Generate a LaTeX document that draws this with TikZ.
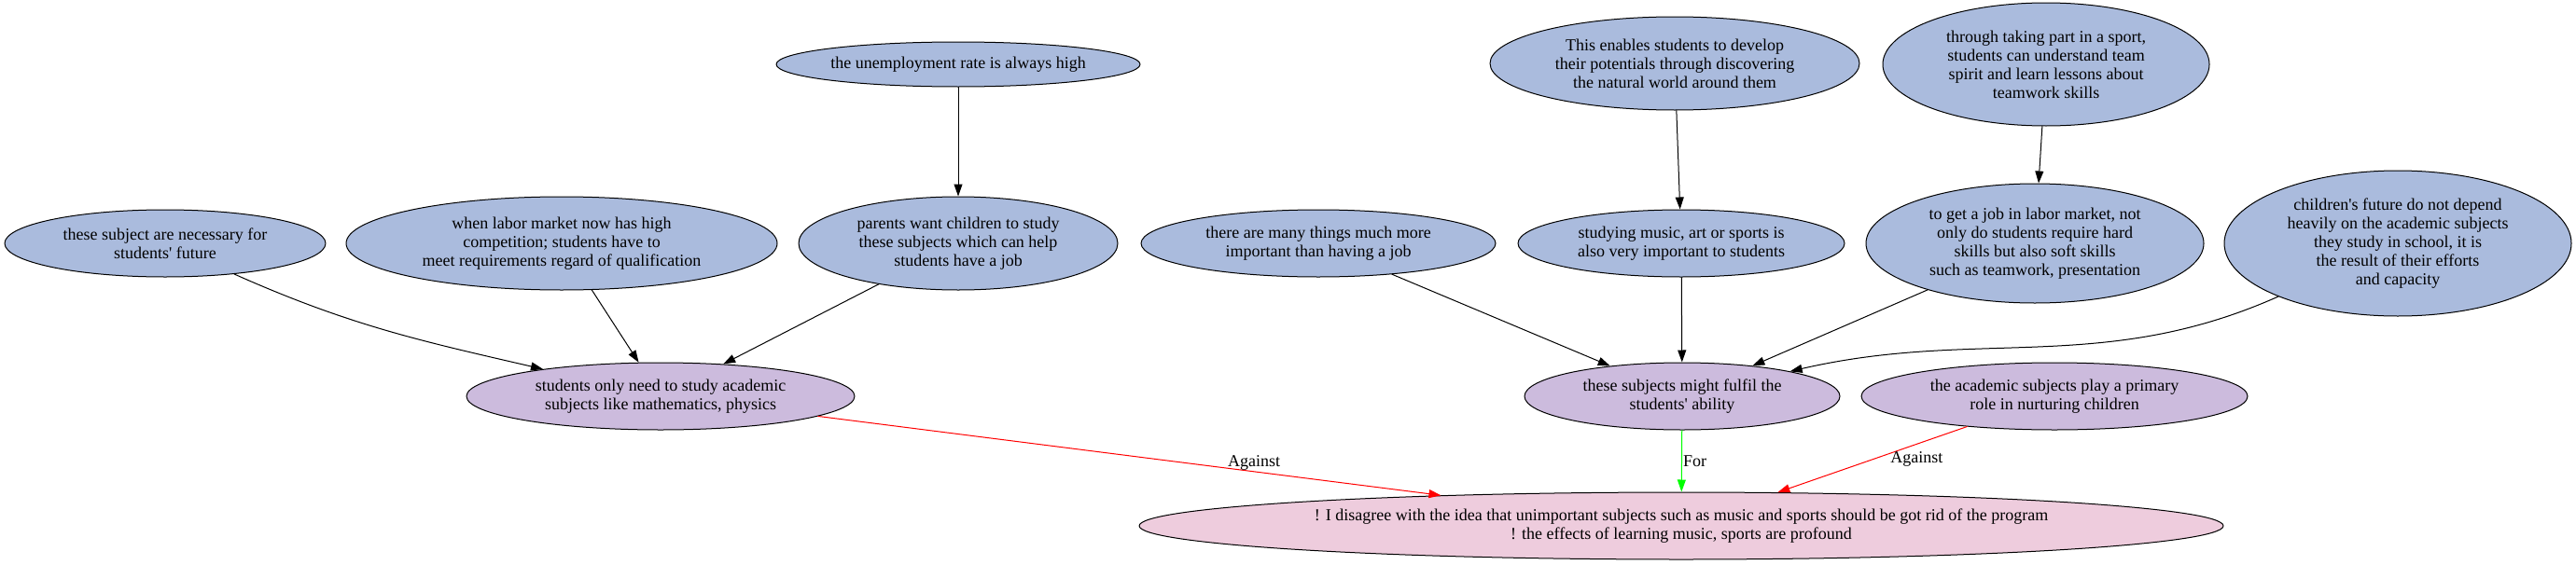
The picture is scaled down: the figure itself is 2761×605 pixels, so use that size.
\documentclass[tikz,border=0pt]{standalone}
\usepackage{fontspec}
\setmainfont{Liberation Serif}
\usetikzlibrary{shapes.geometric,arrows.meta}
\definecolor{premise}{RGB}{170,187,221}
\definecolor{claim}{RGB}{204,187,221}
\definecolor{thesiscol}{RGB}{238,204,221}
\newcommand{\ap}{\textquotesingle}
\tikzset{
	arg/.style={ellipse,draw,inner sep=0pt,align=center,fill=premise},
	clm/.style={arg,fill=claim},
	edgelabel/.style={inner sep=1pt,text=black}
}
\begin{document}
\begin{tikzpicture}[x=1pt,y=1pt,line join=round,line cap=round,line width=1pt,>={Stealth[length=13pt,width=9pt,inset=0pt]},font=\fontsize{18}{20}\selectfont]
	\useasboundingbox (0,0) rectangle (2761,-605);
	\node[arg,minimum width=344pt,minimum height=72pt] (future) at (177,-261) {these subject are necessary for\\students\ap{} future};
	\node[arg,minimum width=462pt,minimum height=100pt] (labor) at (602,-261) {when labor market now has high\\competition; students have to\\meet requirements regard of qualification};
	\node[arg,minimum width=342pt,minimum height=100pt] (parents) at (1027,-261) {parents want children to study\\these subjects which can help\\students have a job};
	\node[arg,minimum width=390pt,minimum height=48pt] (unemp) at (1027,-69) {the unemployment rate is always high};
	\node[clm,minimum width=416pt,minimum height=72pt] (academic) at (708,-425) {students only need to study academic\\subjects like mathematics, physics};
	\node[arg,minimum width=380pt,minimum height=72pt] (things) at (1413,-261) {there are many things much more\\important than having a job};
	\node[arg,minimum width=350pt,minimum height=72pt] (music) at (1802,-261) {studying music, art or sports is\\also very important to students};
	\node[clm,minimum width=338pt,minimum height=72pt] (fulfil) at (1803,-425) {these subjects might fulfil the\\students\ap{} ability};
	\node[arg,minimum width=396pt,minimum height=100pt] (discover) at (1795,-68) {This enables students to develop\\their potentials through discovering\\the natural world around them};
	\node[arg,minimum width=350pt,minimum height=132pt] (sport) at (2193,-69) {through taking part in a sport,\\students can understand team\\spirit and learn lessons about\\teamwork skills};
	\node[arg,minimum width=362pt,minimum height=128pt] (soft) at (2181,-261) {to get a job in labor market, not\\only do students require hard\\skills but also soft skills\\such as teamwork, presentation};
	\node[arg,minimum width=372pt,minimum height=156pt] (depend) at (2570,-261) {children\ap{}s future do not depend\\heavily on the academic subjects\\they study in school, it is\\the result of their efforts\\and capacity};
	\node[clm,minimum width=414pt,minimum height=72pt] (primary) at (2202,-425) {the academic subjects play a primary\\role in nurturing children};
	\node[arg,fill=thesiscol,minimum width=1162pt,minimum height=72pt] (thesis) at (1802,-564) {! I disagree with the idea that unimportant subjects such as music and sports should be got rid of the program\\! the effects of learning music, sports are profound};
	\foreach\a/\b in {unemp/parents, labor/academic, parents/academic, discover/music, sport/soft, things/fulfil, music/fulfil, soft/fulfil}{
		\draw[->] (\a) -- (\b);
	};
	\draw[->] (future) to[out=-24,in=167] (academic);
	\draw[->] (depend) to[out=204,in=13] (fulfil);
	\draw[->,red] (academic) -- node[pos=.7,above,edgelabel] {Against} (thesis);
	\draw[->,green] (fulfil) -- node[pos=.5,right,edgelabel] {For} (thesis);
	\draw[->,red] (primary) -- node[pos=.5,right=18pt,edgelabel] {Against} (thesis);
\end{tikzpicture}
\end{document}
